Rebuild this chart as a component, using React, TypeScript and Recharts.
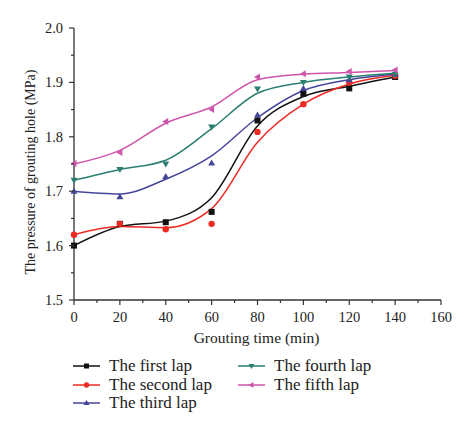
import React from "react";
import { ComposedChart, Line, Scatter, XAxis, YAxis, Label } from "recharts";

// grouting time (min)
const times = [0, 20, 40, 60, 80, 100, 120, 140];

// measured pressure (MPa)
const firstLap = [1.6, 1.64, 1.643, 1.662, 1.83, 1.879, 1.889, 1.91];
const secondLap = [1.62, 1.64, 1.63, 1.64, 1.809, 1.86, 1.9, 1.912];
const thirdLap = [1.7, 1.69, 1.727, 1.752, 1.84, 1.889, 1.905, 1.915];
const fourthLap = [1.72, 1.74, 1.75, 1.818, 1.888, 1.9, 1.91, 1.915];
const fifthLap = [1.751, 1.771, 1.828, 1.85, 1.91, 1.916, 1.92, 1.923];

// fitted curves at the same times
const firstFit = [1.6, 1.635, 1.645, 1.688, 1.82, 1.874, 1.893, 1.91];
const secondFit = [1.62, 1.635, 1.633, 1.668, 1.79, 1.86, 1.897, 1.913];
const thirdFit = [1.7, 1.695, 1.722, 1.765, 1.835, 1.885, 1.905, 1.915];
const fourthFit = [1.72, 1.74, 1.757, 1.815, 1.88, 1.9, 1.91, 1.917];
const fifthFit = [1.75, 1.775, 1.825, 1.855, 1.905, 1.915, 1.918, 1.922];

const xTicks = [0, 10, 20, 30, 40, 50, 60, 70, 80, 90, 100, 110, 120, 130, 140, 150, 160];
const yTicks = [1.5, 1.55, 1.6, 1.65, 1.7, 1.75, 1.8, 1.85, 1.9, 1.95, 2.0];

const series = [
  { key: "first", name: "The first lap", color: "#111111", shape: "square", values: firstLap, fit: firstFit },
  { key: "second", name: "The second lap", color: "#ec2b24", shape: "circle", values: secondLap, fit: secondFit },
  { key: "third", name: "The third lap", color: "#45459a", shape: "up", values: thirdLap, fit: thirdFit },
  { key: "fourth", name: "The fourth lap", color: "#2b7f70", shape: "down", values: fourthLap, fit: fourthFit },
  { key: "fifth", name: "The fifth lap", color: "#cf55ab", shape: "left", values: fifthLap, fit: fifthFit },
];

const data = times.map((t, i) => {
  const row: Record<string, number> = { t };
  series.forEach((s) => {
    row[s.key] = s.values[i];
    row[s.key + "Fit"] = s.fit[i];
  });
  return row;
});

const font = "'Liberation Serif', 'Times New Roman', serif";
const axisColor = "#333";

function Marker({ kind, cx, cy, color, size = 7 }: any) {
  const h = size / 2;
  if (kind === "square") return <rect x={cx - h + 0.5} y={cy - h + 0.5} width={size - 1} height={size - 1} fill={color} />;
  if (kind === "circle") return <circle cx={cx} cy={cy} r={h - 0.3} fill={color} />;
  if (kind === "up") return <polygon points={`${cx},${cy - h} ${cx + h},${cy + h - 1} ${cx - h},${cy + h - 1}`} fill={color} />;
  if (kind === "down") return <polygon points={`${cx},${cy + h} ${cx + h},${cy - h + 1} ${cx - h},${cy - h + 1}`} fill={color} />;
  return <polygon points={`${cx - h},${cy} ${cx + h - 1},${cy - h} ${cx + h - 1},${cy + h}`} fill={color} />;
}

const XTick = (props: any) => {
  const { x, y, payload } = props;
  const major = payload.value % 20 === 0;
  return (
    <g>
      <line x1={x} x2={x} y1={y} y2={y + (major ? 5 : 3)} stroke={axisColor} strokeWidth={1.2} />
      {major && (
        <text x={x} y={y + 22} textAnchor="middle" fontFamily={font} fontSize={14.5} fill="#222">
          {payload.value}
        </text>
      )}
    </g>
  );
};

const YTick = (props: any) => {
  const { x, y, payload } = props;
  const major = Math.round(payload.value * 100) % 10 === 0;
  return (
    <g>
      <line x1={x} x2={x - (major ? 5 : 3)} y1={y} y2={y} stroke={axisColor} strokeWidth={1.2} />
      {major && (
        <text x={x - 11} y={y + 5} textAnchor="end" fontFamily={font} fontSize={14.5} fill="#222">
          {payload.value.toFixed(1)}
        </text>
      )}
    </g>
  );
};

function LegendItem({ s }: any) {
  return (
    <div style={{ display: "flex", alignItems: "center", height: 18.5 }}>
      <svg width={27} height={12} style={{ marginRight: 9 }}>
        <line x1={0} x2={27} y1={6} y2={6} stroke={s.color} strokeWidth={1.5} />
        <Marker kind={s.shape} cx={13.5} cy={6} color={s.color} size={6} />
      </svg>
      <span>{s.name}</span>
    </div>
  );
}

export default function App() {
  return (
    <div style={{ position: "absolute", left: 0, top: 0, width: 474, height: 435, background: "#fff" }}>
      <ComposedChart
        width={474}
        height={435}
        data={data}
        margin={{ top: 28, right: 33, left: 14, bottom: 85 }}
      >
        <XAxis
          dataKey="t"
          type="number"
          domain={[0, 160]}
          ticks={xTicks}
          interval={0}
          tickSize={0}
          tickMargin={0}
          tickLine={false}
          tick={<XTick />}
          height={50}
          axisLine={{ stroke: axisColor, strokeWidth: 1.3 }}
        >
          <Label
            content={({ viewBox }: any) => (
              <text
                x={viewBox.x + viewBox.width / 2 - 1}
                y={viewBox.y + 43}
                textAnchor="middle"
                fontFamily={font}
                fontSize={15.5}
                fill="#222"
              >
                Grouting time (min)
              </text>
            )}
          />
        </XAxis>
        <YAxis
          type="number"
          domain={[1.5, 2.0]}
          ticks={yTicks}
          interval={0}
          tickSize={0}
          tickMargin={0}
          tickLine={false}
          tick={<YTick />}
          width={60}
          axisLine={{ stroke: axisColor, strokeWidth: 1.3 }}
        >
          <Label
            content={({ viewBox }: any) => {
              const cx = viewBox.x + 16;
              const cy = viewBox.y + viewBox.height / 2 + 8;
              return (
                <text
                  x={cx}
                  y={cy}
                  transform={`rotate(-90, ${cx}, ${cy})`}
                  textAnchor="middle"
                  dominantBaseline="central"
                  fontFamily={font}
                  fontSize={14}
                  fill="#222"
                >
                  The pressure of grouting hole (MPa)
                </text>
              );
            }}
          />
        </YAxis>
        {series.map((s) => (
          <Line
            key={s.key + "Fit"}
            dataKey={s.key + "Fit"}
            type="monotone"
            stroke={s.color}
            strokeWidth={1.5}
            dot={false}
            activeDot={false}
            isAnimationActive={false}
          />
        ))}
        {series.map((s) => (
          <Scatter
            key={s.key}
            dataKey={s.key}
            fill={s.color}
            isAnimationActive={false}
            shape={(p: any) => <Marker kind={s.shape} cx={p.cx} cy={p.cy} color={s.color} />}
          />
        ))}
      </ComposedChart>
      <div
        style={{
          position: "absolute",
          left: 73,
          top: 357,
          display: "flex",
          fontFamily: font,
          fontSize: 17,
          color: "#222",
        }}
      >
        <div style={{ width: 165 }}>
          {series.slice(0, 3).map((s) => (
            <LegendItem key={s.key} s={s} />
          ))}
        </div>
        <div>
          {series.slice(3).map((s) => (
            <LegendItem key={s.key} s={s} />
          ))}
        </div>
      </div>
    </div>
  );
}
